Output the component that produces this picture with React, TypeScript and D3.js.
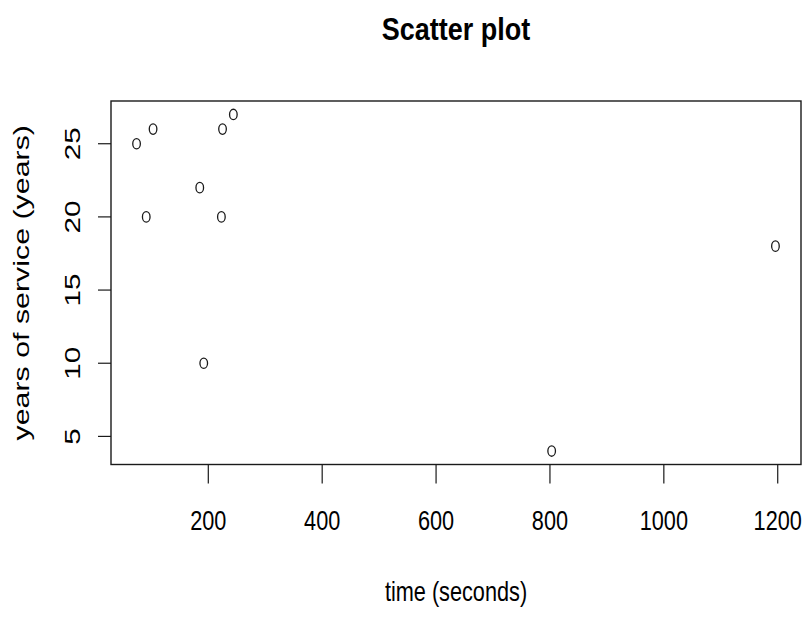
import React from "react";
import * as d3 from "d3";

// Observations: response time against years of service
const timeSeconds = [74, 103, 91, 185, 192, 223, 225, 244, 803, 1196];
const yearsService = [25, 26, 20, 22, 10, 20, 26, 27, 4, 18];

const xTicks = [200, 400, 600, 800, 1000, 1200];
const yTicks = [5, 10, 15, 20, 25];

const titleText = "Scatter plot";
const xLabel = "time (seconds)";
const yLabel = "years of service (years)";

const W = 805;
const H = 618;
const plot = { left: 111, right: 801, top: 101, bottom: 464.5 };
const STRETCH = 1.3; // vertical stretch of the rendered device
const Y_STRETCH = 1.4; // stretch along the rotated y-axis text
const FONT = "Liberation Sans, Arial, sans-serif";
const INK = "#1a1a1a";

// R-style 4% padding around the data range
function padded(values: number[]): [number, number] {
  const [lo, hi] = d3.extent(values) as [number, number];
  const pad = (hi - lo) * 0.04;
  return [lo - pad, hi + pad];
}

export default function App() {
  const x = d3.scaleLinear().domain(padded(timeSeconds)).range([plot.left, plot.right]);
  const y = d3.scaleLinear().domain(padded(yearsService)).range([plot.bottom, plot.top]);
  const cx = (plot.left + plot.right) / 2;
  const cy = (plot.top + plot.bottom) / 2;

  return (
    <svg
      width={W}
      height={H}
      style={{ position: "absolute", left: 0, top: 0, background: "#fff" }}
    >
      {/* title */}
      <text
        transform={`translate(${cx},40) scale(1,1.15)`}
        textAnchor="middle"
        fontFamily={FONT}
        fontWeight="bold"
        fontSize={27}
        fill="#000"
      >
        {titleText}
      </text>

      {/* plot frame */}
      <rect
        x={plot.left}
        y={plot.top}
        width={plot.right - plot.left}
        height={plot.bottom - plot.top}
        fill="none"
        stroke={INK}
        strokeWidth={1.4}
      />

      {/* x axis */}
      {xTicks.map((t) => (
        <g key={`x${t}`}>
          <line x1={x(t)} x2={x(t)} y1={plot.bottom} y2={plot.bottom + 19} stroke={INK} strokeWidth={1.2} />
          <text
            transform={`translate(${x(t)},530) scale(1,${STRETCH})`}
            textAnchor="middle"
            fontFamily={FONT}
            fontSize={21.7}
            fill="#000"
          >
            {t}
          </text>
        </g>
      ))}

      {/* y axis */}
      {yTicks.map((t) => (
        <g key={`y${t}`}>
          <line x1={plot.left - 13} x2={plot.left} y1={y(t)} y2={y(t)} stroke={INK} strokeWidth={1.2} />
          <text
            transform={`translate(80,${y(t)}) rotate(-90) scale(${Y_STRETCH},1)`}
            textAnchor="middle"
            fontFamily={FONT}
            fontSize={21.2}
            fill="#000"
          >
            {t}
          </text>
        </g>
      ))}

      {/* axis titles */}
      <text
        transform={`translate(${cx},601) scale(1,${STRETCH})`}
        textAnchor="middle"
        fontFamily={FONT}
        fontSize={21.7}
        fill="#000"
      >
        {xLabel}
      </text>
      <text
        transform={`translate(29,${cy}) rotate(-90) scale(${Y_STRETCH},1)`}
        textAnchor="middle"
        fontFamily={FONT}
        fontSize={21.7}
        fill="#000"
      >
        {yLabel}
      </text>

      {/* points */}
      {timeSeconds.map((t, i) => (
        <ellipse
          key={i}
          cx={x(t)}
          cy={y(yearsService[i])}
          rx={3.8}
          ry={5.2}
          fill="none"
          stroke={INK}
          strokeWidth={1.3}
        />
      ))}
    </svg>
  );
}
